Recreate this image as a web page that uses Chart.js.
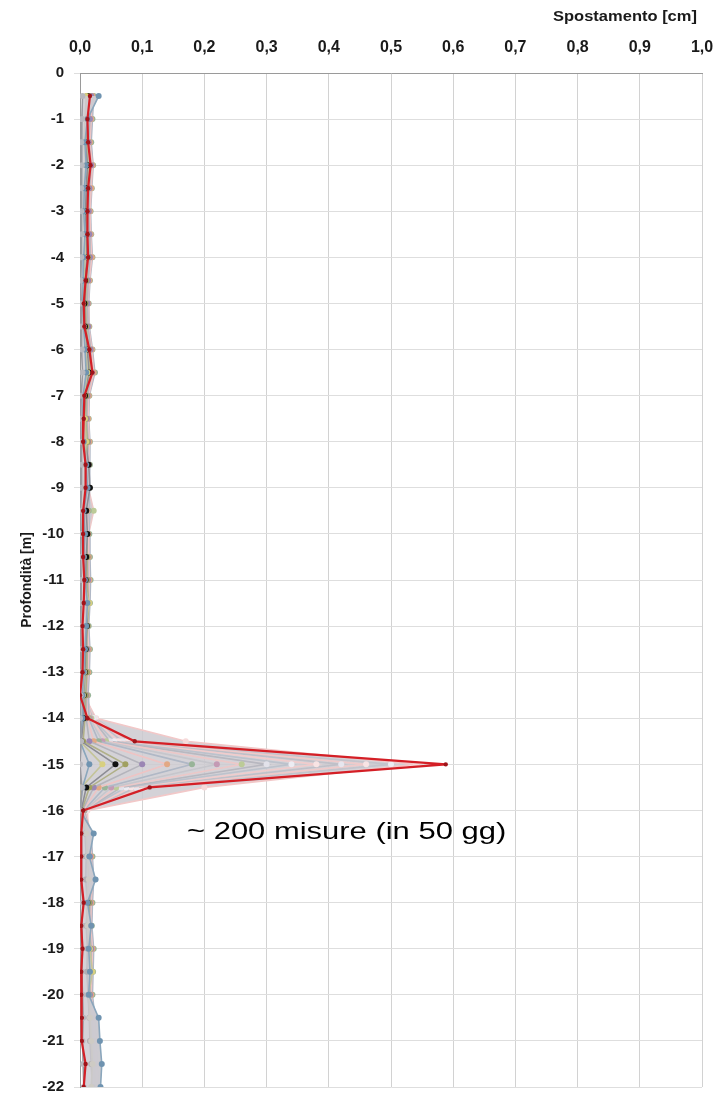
<!DOCTYPE html>
<html>
<head>
<meta charset="utf-8">
<script src="https://cdn.jsdelivr.net/npm/chart.js@4.4.1/dist/chart.umd.min.js"></script>
<style>
  html, body { margin: 0; padding: 0; background: #fff; }
  #wrap { width: 718px; height: 1096px; }
</style>
</head>
<body>
<div id="wrap"><canvas id="chart" width="718" height="1096"></canvas></div>
<script>
// depth of every reading [m]
const depths = [-0.5, -1, -1.5, -2, -2.5, -3, -3.5, -4, -4.5, -5, -5.5, -6, -6.5, -7, -7.5, -8,
  -8.5, -9, -9.5, -10, -10.5, -11, -11.5, -12, -12.5, -13, -13.5, -14, -14.5, -15, -15.5, -16,
  -16.5, -17, -17.5, -18, -18.5, -19, -19.5, -20, -20.5, -21, -21.5, -22];

const xTickLabels = ["0,0", "0,1", "0,2", "0,3", "0,4", "0,5", "0,6", "0,7", "0,8", "0,9", "1,0"];
const yTickLabels = ["0", "-1", "-2", "-3", "-4", "-5", "-6", "-7", "-8", "-9", "-10", "-11",
  "-12", "-13", "-14", "-15", "-16", "-17", "-18", "-19", "-20", "-21", "-22"];

// displacement [cm], older readings (a sample of the ~200)
const s01 = [0.004,0.003,0.002,0.003,0.002,0.002,0.003,0.002,0.001,0.002,0.002,0.003,0.004,0.002,0.001,0.002,0.003,0.002,0.001,0.002,0.001,0.002,0.002,0.001,0.002,0.001,0.001,
  0.000,0.002,0.000,0.003,0.001,
  0.002,0.003,0.002,0.004,0.003,0.004,0.003,0.004,0.005,0.004,0.005,0.006];
const s02 = [0.030,0.012,0.008,0.010,0.007,0.006,0.008,0.006,0.005,0.004,0.006,0.008,0.010,0.005,0.004,0.006,0.010,0.012,0.006,0.008,0.006,0.008,0.012,0.010,0.008,0.006,0.004,
  0.004,0.000,0.015,0.004,0.000,
  0.022,0.015,0.025,0.012,0.018,0.014,0.016,0.014,0.030,0.032,0.035,0.033];
const s03 = [0.010,0.008,0.006,0.009,0.006,0.006,0.007,0.008,0.006,0.005,0.006,0.009,0.012,0.006,0.008,0.010,0.008,0.006,0.005,0.007,0.006,0.005,0.015,0.008,0.006,0.007,0.005,
  0.002,0.000,0.036,0.002,0.000,
  0.010,0.012,0.014,0.010,0.012,0.016,0.020,0.014,0.016,0.018,0.020,0.018];
const s04 = [0.012,0.010,0.008,0.012,0.010,0.009,0.010,0.011,0.008,0.007,0.008,0.012,0.014,0.008,0.007,0.009,0.014,0.016,0.010,0.012,0.010,0.009,0.010,0.011,0.009,0.008,0.006,
  0.006,0.002,0.057,0.010,0.002,
  0.008,0.010,0.009,0.012,0.010,0.012,0.011,0.013,0.015,0.016,0.018,0.020];
const s05 = [0.014,0.011,0.010,0.013,0.012,0.010,0.011,0.013,0.010,0.009,0.010,0.014,0.016,0.010,0.009,0.012,0.010,0.008,0.009,0.010,0.012,0.011,0.014,0.012,0.010,0.011,0.009,
  0.008,0.005,0.073,0.015,0.003,
  0.012,0.014,0.013,0.015,0.014,0.016,0.015,0.014,0.018,0.020,0.022,0.024];
const s06 = [0.018,0.016,0.014,0.018,0.015,0.014,0.015,0.016,0.013,0.012,0.013,0.017,0.019,0.012,0.011,0.013,0.012,0.011,0.010,0.011,0.012,0.013,0.012,0.010,0.012,0.011,0.010,
  0.010,0.015,0.100,0.022,0.004,
  0.014,0.016,0.018,0.016,0.015,0.018,0.017,0.016,0.020,0.022,0.024,0.026];
const s07 = [0.020,0.018,0.016,0.020,0.018,0.016,0.017,0.019,0.015,0.013,0.014,0.019,0.022,0.014,0.013,0.015,0.014,0.013,0.012,0.013,0.014,0.015,0.014,0.012,0.014,0.013,0.011,
  0.012,0.022,0.140,0.030,0.005,
  0.016,0.018,0.020,0.018,0.017,0.020,0.019,0.018,0.022,0.024,0.026,0.028];
const s08 = [0.022,0.020,0.018,0.021,0.019,0.017,0.018,0.020,0.016,0.014,0.015,0.020,0.024,0.015,0.014,0.016,0.016,0.015,0.014,0.015,0.016,0.017,0.016,0.014,0.016,0.015,0.013,
  0.014,0.030,0.180,0.040,0.006,
  0.018,0.020,0.022,0.020,0.019,0.022,0.021,0.020,0.024,0.026,0.028,0.030];
const s09 = [0.015,0.014,0.012,0.016,0.013,0.012,0.014,0.015,0.012,0.010,0.011,0.015,0.018,0.010,0.009,0.010,0.012,0.011,0.010,0.010,0.011,0.012,0.011,0.009,0.010,0.009,0.007,
  0.016,0.036,0.220,0.050,0.007,
  0.012,0.015,0.016,0.014,0.016,0.018,0.016,0.015,0.019,0.021,0.023,0.025];
const s10 = [0.019,0.017,0.015,0.019,0.016,0.015,0.016,0.017,0.014,0.012,0.013,0.018,0.021,0.013,0.012,0.014,0.013,0.014,0.022,0.014,0.013,0.014,0.013,0.011,0.013,0.012,0.010,
  0.018,0.042,0.260,0.058,0.007,
  0.015,0.017,0.019,0.017,0.016,0.019,0.018,0.017,0.021,0.023,0.025,0.027];
const s11 = [0.012,0.011,0.010,0.013,0.011,0.010,0.011,0.012,0.010,0.008,0.009,0.013,0.016,0.009,0.008,0.009,0.010,0.009,0.008,0.009,0.010,0.011,0.010,0.008,0.009,0.008,0.006,
  0.019,0.048,0.300,0.066,0.008,
  0.010,0.013,0.014,0.013,0.014,0.015,0.014,0.013,0.017,0.019,0.021,0.022];
const s12 = [0.017,0.015,0.013,0.017,0.014,0.013,0.014,0.016,0.013,0.011,0.012,0.016,0.020,0.011,0.010,0.012,0.013,0.012,0.011,0.012,0.013,0.014,0.013,0.011,0.012,0.010,0.008,
  0.020,0.055,0.340,0.074,0.008,
  0.013,0.015,0.017,0.015,0.015,0.017,0.016,0.015,0.019,0.021,0.023,0.024];
const s13 = [0.021,0.019,0.017,0.021,0.017,0.016,0.017,0.018,0.015,0.013,0.014,0.019,0.023,0.014,0.013,0.015,0.014,0.013,0.012,0.013,0.015,0.016,0.015,0.013,0.014,0.012,0.010,
  0.021,0.062,0.380,0.082,0.009,
  0.017,0.019,0.021,0.019,0.018,0.021,0.020,0.019,0.023,0.025,0.027,0.029];
const s14 = [0.014,0.012,0.011,0.014,0.012,0.011,0.012,0.013,0.011,0.009,0.010,0.014,0.017,0.009,0.008,0.010,0.011,0.010,0.009,0.010,0.011,0.012,0.011,0.009,0.010,0.008,0.006,
  0.022,0.068,0.420,0.090,0.009,
  0.011,0.013,0.015,0.013,0.013,0.015,0.014,0.013,0.016,0.018,0.020,0.021];
const s15 = [0.019,0.016,0.015,0.018,0.015,0.014,0.015,0.016,0.013,0.011,0.012,0.017,0.020,0.012,0.011,0.012,0.012,0.011,0.010,0.011,0.012,0.013,0.012,0.010,0.011,0.009,0.007,
  0.023,0.075,0.460,0.098,0.010,
  0.014,0.016,0.018,0.016,0.016,0.018,0.017,0.016,0.020,0.022,0.024,0.025];
const s16 = [0.016,0.014,0.012,0.016,0.013,0.012,0.013,0.015,0.012,0.010,0.011,0.016,0.019,0.011,0.009,0.011,0.011,0.010,0.009,0.010,0.011,0.012,0.011,0.009,0.010,0.008,0.005,
  0.024,0.080,0.500,0.104,0.010,
  0.012,0.014,0.016,0.014,0.014,0.016,0.015,0.014,0.018,0.020,0.022,0.023];
const s17 = [0.018,0.015,0.014,0.017,0.014,0.013,0.014,0.015,0.012,0.010,0.011,0.016,0.019,0.010,0.009,0.011,0.011,0.010,0.009,0.010,0.011,0.012,0.011,0.009,0.010,0.008,0.006,
  0.026,0.170,0.540,0.200,0.012,
  0.013,0.015,0.017,0.015,0.015,0.017,0.016,0.015,0.019,0.021,0.023,0.024];

// latest reading (red)
const last = [0.016,0.012,0.013,0.017,0.013,0.012,0.012,0.013,0.009,0.006,0.007,0.015,0.020,0.007,0.006,0.005,0.009,0.009,0.005,0.005,0.005,0.007,0.006,0.004,0.005,0.004,0.000,
  0.012,0.088,0.588,0.112,0.005,
  0.002,0.002,0.002,0.006,0.002,0.004,0.002,0.002,0.003,0.003,0.009,0.006];

const older = [s01, s02, s03, s04, s05, s06, s07, s08, s09, s10, s11, s12, s13, s14, s15, s16, s17];
const lineColors = ["#9a9aa0", "#8aa6bc", "#c4c49a", "#8c8c94", "#b0b088", "#b4b4bc", "#eec4c4",
  "#b0b8c6", "#c6c6cc", "#ecc8c8", "#b8b8c0", "#bcc2cc", "#f0cccc", "#c0c0c8", "#efcaca", "#c4c4cc", "#f2c8c8"];
const markColors = ["#b8b8be", "#6f93b0", "#d8d080", "#111111", "#a0a060", "#9a86b4", "#e2a884",
  "#98b498", "#c49ab4", "#bccb98", "#e2e2ea", "#ececf2", "#f8e4e4", "#e6e6ee", "#f8e4e4", "#ececf2", "#f6dada"];

const toPoints = (vals) => vals.map((v, i) => ({ x: v, y: depths[i] }));

const datasets = older.map((s, k) => ({
  data: toPoints(s),
  showLine: true,
  order: 1,
  fill: k === 0 ? false : "-1",
  backgroundColor: "rgba(204, 202, 208, 0.85)",
  borderColor: lineColors[k],
  borderWidth: 1.6,
  pointRadius: 3,
  pointBorderWidth: 0,
  pointBackgroundColor: markColors[k],
}));
datasets.push({
  data: toPoints(last),
  showLine: true,
  order: 0,
  fill: false,
  borderColor: "#d41f26",
  borderWidth: 2.2,
  pointRadius: 2.2,
  pointBorderWidth: 0,
  pointBackgroundColor: "#a0141a",
});

// text drawn with a horizontal stretch like the source picture
const textPlugin = {
  id: "texts",
  afterDraw(chart) {
    const ctx = chart.ctx;
    ctx.save();
    ctx.fillStyle = "#1a1a1a";
    ctx.textAlign = "center";
    ctx.textBaseline = "alphabetic";
    ctx.font = "bold 15px 'Liberation Sans', Arial, sans-serif";
    ctx.translate(625, 21);
    ctx.scale(1.1, 1);
    ctx.fillText("Spostamento [cm]", 0, 0);
    ctx.restore();

    ctx.save();
    ctx.fillStyle = "#000";
    ctx.textAlign = "left";
    ctx.textBaseline = "alphabetic";
    ctx.font = "24px 'Liberation Sans', Arial, sans-serif";
    ctx.translate(187, 839);
    ctx.scale(1.29, 1);
    ctx.fillText("~ 200 misure (in 50 gg)", 0, 0);
    ctx.restore();
  },
};

new Chart(document.getElementById("chart"), {
  type: "scatter",
  data: { datasets: datasets },
  plugins: [textPlugin],
  options: {
    responsive: false,
    animation: false,
    indexAxis: "y",
    layout: { padding: { left: 0, top: 0, right: 16, bottom: 9 } },
    plugins: { legend: { display: false }, tooltip: { enabled: false }, filler: { propagate: false } },
    scales: {
      x: {
        type: "linear",
        position: "top",
        min: 0,
        max: 1,
        ticks: {
          stepSize: 0.1,
          autoSkip: false,
          maxRotation: 0,
          padding: 16,
          color: "#1a1a1a",
          font: { family: "'Liberation Sans', Arial", weight: "bold", size: 16 },
          callback: (v, i) => xTickLabels[i],
        },
        grid: { color: "#d2d2d2", drawTicks: false },
        border: { color: "#9a9a9a" },
        afterFit: (s) => { s.height = 73; s.paddingLeft = 0; s.paddingRight = 0; },
      },
      y: {
        type: "linear",
        min: -22,
        max: 0,
        ticks: {
          stepSize: 1,
          autoSkip: false,
          padding: 10,
          color: "#1a1a1a",
          font: { family: "'Liberation Sans', Arial", weight: "bold", size: 15 },
          callback: (v) => yTickLabels[Math.round(-v)],
        },
        grid: { color: "#dedede", tickLength: 6 },
        border: { color: "#9a9a9a" },
        title: {
          display: true,
          text: "Profondità [m]",
          color: "#1a1a1a",
          font: { family: "'Liberation Sans', Arial", weight: "bold", size: 14 },
          padding: { top: 19, bottom: 0 },
        },
        afterFit: (s) => { s.width = 80; s.paddingTop = 0; s.paddingBottom = 0; },
      },
    },
  },
});
</script>
</body>
</html>
